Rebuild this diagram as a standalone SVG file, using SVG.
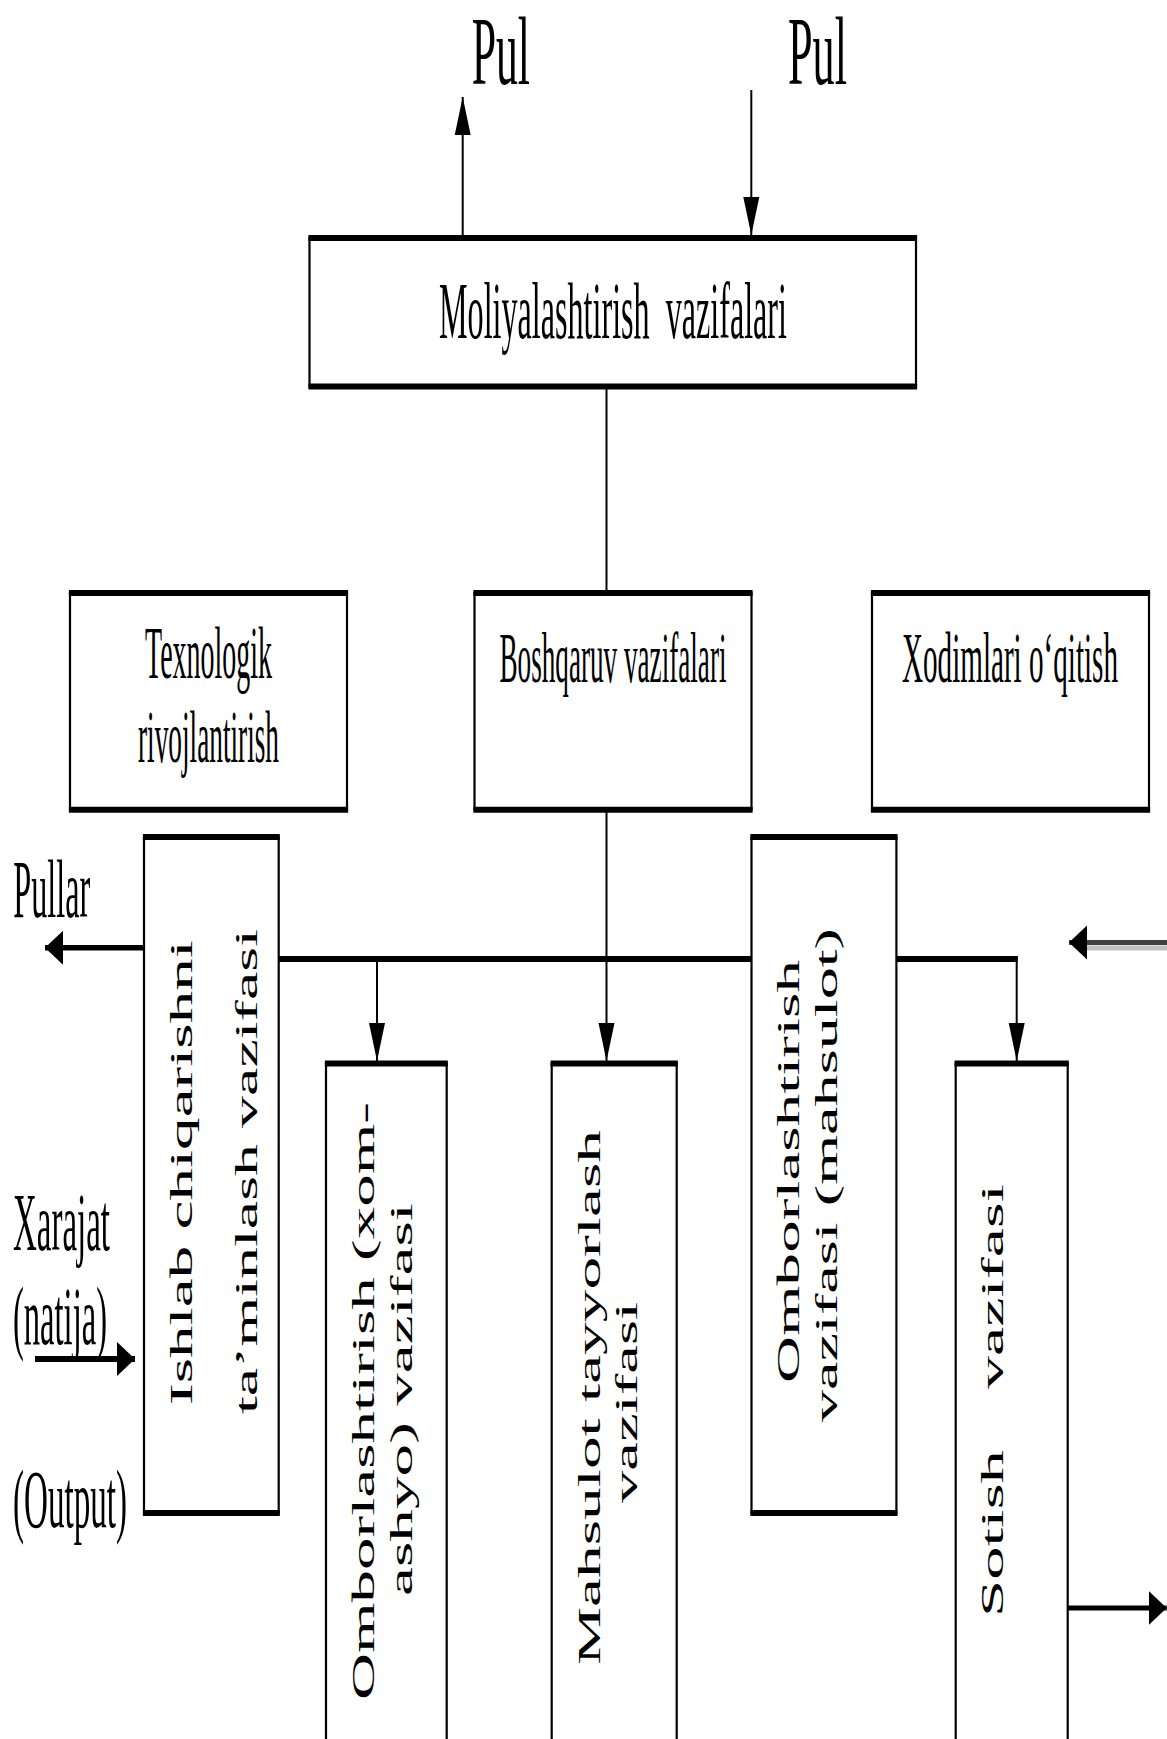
<svg xmlns="http://www.w3.org/2000/svg" width="1167" height="1739" viewBox="0 0 1167 1739">
  <style>
    .frame { fill: #fff; stroke: #000; stroke-width: 2.2; }
    .edge { stroke: #000; stroke-width: 6; }
    .lbl { font-family: "Liberation Serif", "Times New Roman", serif; fill: #000; }
    .vl { font-family: "Liberation Serif", "Times New Roman", serif; fill: #000; font-size: 31px; }
    .thin { stroke: #000; stroke-width: 2; fill: none; }
    .thick { stroke: #000; stroke-width: 6; fill: none; }
  </style>
  <defs>
    <!-- narrow head for vertical connectors -->
    <marker id="head-v" markerUnits="userSpaceOnUse" viewBox="0 -9 38 18" refX="38" refY="0" markerWidth="38" markerHeight="18" orient="auto">
      <path d="M0,-8 L38,0 L0,8 Z" fill="#000"/>
    </marker>
    <!-- short wide head for horizontal connectors -->
    <marker id="head-h" markerUnits="userSpaceOnUse" viewBox="0 -19 18 38" refX="18" refY="0" markerWidth="18" markerHeight="38" orient="auto">
      <path d="M0,-17 L18,0 L0,17 Z" fill="#000"/>
    </marker>
  </defs>

  <rect width="1167" height="1739" fill="#fff"/>

  <!-- connectors -->
  <g id="connectors">
    <line class="thin" x1="462.7" y1="235" x2="462.7" y2="97" marker-end="url(#head-v)"/>
    <line class="thin" x1="751.3" y1="90" x2="751.3" y2="235" marker-end="url(#head-v)"/>
    <line class="thin" x1="606.5" y1="389" x2="606.5" y2="590"/>
    <line class="thin" x1="606.5" y1="812" x2="606.5" y2="1061" marker-end="url(#head-v)"/>
    <line x1="144" y1="947.7" x2="45" y2="947.7" stroke="#000" stroke-width="5.5" marker-end="url(#head-h)"/>
    <line class="thick" x1="279" y1="959" x2="751.5" y2="959"/>
    <polyline class="thick" points="896.4,959 1017.7,959"/>
    <line class="thin" x1="1016.7" y1="956" x2="1016.7" y2="1061" marker-end="url(#head-v)"/>
    <line class="thin" x1="377" y1="962" x2="377" y2="1061" marker-end="url(#head-v)"/>
    <line x1="35" y1="1359" x2="135" y2="1359" stroke="#000" stroke-width="6" marker-end="url(#head-h)"/>
    <line x1="1067.7" y1="1608" x2="1166.7" y2="1608" stroke="#000" stroke-width="5" marker-end="url(#head-h)"/>
    <line x1="1167" y1="948" x2="1083" y2="948" stroke="#c0c0c0" stroke-width="5"/>
    <line x1="1167" y1="942.5" x2="1069" y2="942.5" stroke="#404040" stroke-width="5" marker-end="url(#head-h)"/>
  </g>

  <!-- free labels (condensed serif) -->
  <g id="labels" class="lbl">
    <text transform="translate(471.7 84) scale(0.446 1)" font-size="98" textLength="130.7" lengthAdjust="spacingAndGlyphs">Pul</text>
    <text transform="translate(788 84) scale(0.446 1)" font-size="98" textLength="132.3" lengthAdjust="spacingAndGlyphs">Pul</text>
    <text transform="translate(13.3 917) scale(0.389 1)" font-size="83" textLength="198" lengthAdjust="spacingAndGlyphs">Pullar</text>
    <text transform="translate(13 1250) scale(0.4 1)" font-size="82" textLength="242.5" lengthAdjust="spacingAndGlyphs">Xarajat</text>
    <text transform="translate(13 1344) scale(0.397 1)" font-size="82" textLength="236.8" lengthAdjust="spacingAndGlyphs">(natija)</text>
    <text transform="translate(13 1527) scale(0.404 1)" font-size="82" textLength="282.2" lengthAdjust="spacingAndGlyphs">(Output)</text>
  </g>

  <g id="moliyalashtirish">
    <rect class="frame" x="309.5" y="238" width="606.5" height="148.5"/>
    <line class="edge" x1="308.4" y1="238" x2="917.1" y2="238"/>
    <line class="edge" x1="308.4" y1="386.5" x2="917.1" y2="386.5"/>
    <text class="lbl" transform="translate(439 338) scale(0.4 1)" font-size="80" textLength="870" lengthAdjust="spacingAndGlyphs">Moliyalashtirish&#160; vazifalari</text>
  </g>

  <g id="texnologik">
    <rect class="frame" x="70" y="593" width="277" height="216.7"/>
    <line class="edge" x1="68.9" y1="593" x2="348.1" y2="593"/>
    <line class="edge" x1="68.9" y1="809.7" x2="348.1" y2="809.7"/>
    <text class="lbl" transform="translate(145 678) scale(0.372 1)" font-size="74" textLength="341.4" lengthAdjust="spacingAndGlyphs">Texnologik</text>
    <text class="lbl" transform="translate(138 762) scale(0.369 1)" font-size="74" textLength="382.1" lengthAdjust="spacingAndGlyphs">rivojlantirish</text>
  </g>

  <g id="boshqaruv">
    <rect class="frame" x="474.5" y="593" width="277" height="216.7"/>
    <line class="edge" x1="473.4" y1="593" x2="752.6" y2="593"/>
    <line class="edge" x1="473.4" y1="809.7" x2="752.6" y2="809.7"/>
    <text class="lbl" transform="translate(499.5 682) scale(0.382 1)" font-size="71" textLength="594.2" lengthAdjust="spacingAndGlyphs">Boshqaruv vazifalari</text>
  </g>

  <g id="xodimlar">
    <rect class="frame" x="872" y="593" width="277" height="216.7"/>
    <line class="edge" x1="870.9" y1="593" x2="1150.1" y2="593"/>
    <line class="edge" x1="870.9" y1="809.7" x2="1150.1" y2="809.7"/>
    <text class="lbl" transform="translate(902 682) scale(0.41 1)" font-size="71" textLength="526.8" lengthAdjust="spacingAndGlyphs">Xodimlari o‘qitish</text>
  </g>

  <g id="taminlash">
    <rect class="frame" x="144" y="837" width="134.7" height="676"/>
    <line class="edge" x1="142.9" y1="837" x2="279.8" y2="837"/>
    <line class="edge" x1="142.9" y1="1513" x2="279.8" y2="1513"/>
    <text class="vl" transform="translate(192 1405) rotate(-90)" textLength="465" lengthAdjust="spacingAndGlyphs">Ishlab chiqarishni</text>
    <text class="vl" transform="translate(256.7 1414) rotate(-90)" textLength="485" lengthAdjust="spacingAndGlyphs">ta’minlash vazifasi</text>
  </g>

  <g id="ombor-xomashyo">
    <rect class="frame" x="326" y="1063.6" width="120.7" height="720"/>
    <line class="edge" x1="324.9" y1="1063.6" x2="447.8" y2="1063.6"/>
    <text class="vl" transform="translate(373.5 1700) rotate(-90)" textLength="598" lengthAdjust="spacingAndGlyphs">Omborlashtirish (xom-</text>
    <text class="vl" transform="translate(412 1596) rotate(-90)" textLength="393" lengthAdjust="spacingAndGlyphs">ashyo) vazifasi</text>
  </g>

  <g id="mahsulot-tayyorlash">
    <rect class="frame" x="551.7" y="1063.6" width="125" height="720"/>
    <line class="edge" x1="550.6" y1="1063.6" x2="677.8" y2="1063.6"/>
    <text class="vl" transform="translate(600 1665) rotate(-90)" textLength="535" lengthAdjust="spacingAndGlyphs">Mahsulot tayyorlash</text>
    <text class="vl" transform="translate(637 1503) rotate(-90)" textLength="201" lengthAdjust="spacingAndGlyphs">vazifasi</text>
  </g>

  <g id="ombor-mahsulot">
    <rect class="frame" x="751.5" y="837" width="144.9" height="676"/>
    <line class="edge" x1="750.4" y1="837" x2="897.5" y2="837"/>
    <line class="edge" x1="750.4" y1="1513" x2="897.5" y2="1513"/>
    <text class="vl" transform="translate(799 1383) rotate(-90)" textLength="423" lengthAdjust="spacingAndGlyphs">Omborlashtirish</text>
    <text class="vl" transform="translate(836.5 1422) rotate(-90)" textLength="494" lengthAdjust="spacingAndGlyphs">vazifasi (mahsulot)</text>
  </g>

  <g id="sotish">
    <rect class="frame" x="955.7" y="1063.6" width="112" height="720"/>
    <line class="edge" x1="954.6" y1="1063.6" x2="1068.8" y2="1063.6"/>
    <text class="vl" transform="translate(1003 1617) rotate(-90)" textLength="167" lengthAdjust="spacingAndGlyphs">Sotish</text>
    <text class="vl" transform="translate(1003 1389) rotate(-90)" textLength="205" lengthAdjust="spacingAndGlyphs">vazifasi</text>
  </g>
</svg>
